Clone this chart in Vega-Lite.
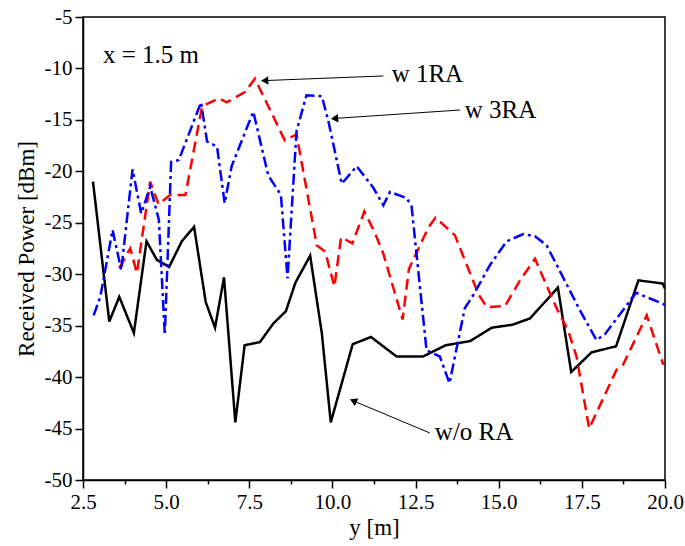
{
  "$schema": "https://vega.github.io/schema/vega-lite/v6.json",
  "width": 582,
  "height": 463,
  "autosize": {"type": "none"},
  "padding": {"left": 83, "top": 17, "right": 20, "bottom": 66},
  "background": "white",
  "config": {
    "view": {"stroke": "black", "strokeWidth": 1.5},
    "font": "Liberation Serif",
    "text": {"font": "Liberation Serif"},
    "axis": {
      "grid": false,
      "domainColor": "black",
      "domainWidth": 1.5,
      "tickColor": "black",
      "tickWidth": 1.5,
      "labelColor": "black",
      "titleColor": "black",
      "labelFontSize": 21,
      "titleFontSize": 23,
      "titleFontWeight": "normal",
      "labelOverlap": false,
      "labelFlush": false
    }
  },
  "layer": [
    {
      "data": {
        "values": [
          {"series": "w/o RA", "ym": 2.8, "p": -21.0},
          {"series": "w/o RA", "ym": 3.29, "p": -34.6},
          {"series": "w/o RA", "ym": 3.59, "p": -32.2},
          {"series": "w/o RA", "ym": 4.03, "p": -35.7},
          {"series": "w/o RA", "ym": 4.41, "p": -26.8},
          {"series": "w/o RA", "ym": 4.72, "p": -28.6},
          {"series": "w/o RA", "ym": 5.09, "p": -29.3},
          {"series": "w/o RA", "ym": 5.47, "p": -26.8},
          {"series": "w/o RA", "ym": 5.84, "p": -25.4},
          {"series": "w/o RA", "ym": 6.19, "p": -32.7},
          {"series": "w/o RA", "ym": 6.47, "p": -35.2},
          {"series": "w/o RA", "ym": 6.74, "p": -30.3},
          {"series": "w/o RA", "ym": 7.08, "p": -44.4},
          {"series": "w/o RA", "ym": 7.36, "p": -36.9},
          {"series": "w/o RA", "ym": 7.82, "p": -36.6},
          {"series": "w/o RA", "ym": 8.22, "p": -34.8},
          {"series": "w/o RA", "ym": 8.6, "p": -33.6},
          {"series": "w/o RA", "ym": 8.89, "p": -30.8},
          {"series": "w/o RA", "ym": 9.33, "p": -28.2},
          {"series": "w/o RA", "ym": 9.68, "p": -35.7},
          {"series": "w/o RA", "ym": 9.95, "p": -44.4},
          {"series": "w/o RA", "ym": 10.61, "p": -36.8},
          {"series": "w/o RA", "ym": 11.16, "p": -36.1},
          {"series": "w/o RA", "ym": 11.93, "p": -38.0},
          {"series": "w/o RA", "ym": 12.72, "p": -38.0},
          {"series": "w/o RA", "ym": 13.41, "p": -36.9},
          {"series": "w/o RA", "ym": 14.14, "p": -36.5},
          {"series": "w/o RA", "ym": 14.79, "p": -35.2},
          {"series": "w/o RA", "ym": 15.42, "p": -34.9},
          {"series": "w/o RA", "ym": 15.94, "p": -34.3},
          {"series": "w/o RA", "ym": 16.78, "p": -31.3},
          {"series": "w/o RA", "ym": 17.18, "p": -39.5},
          {"series": "w/o RA", "ym": 17.79, "p": -37.6},
          {"series": "w/o RA", "ym": 18.53, "p": -37.0},
          {"series": "w/o RA", "ym": 19.2, "p": -30.6},
          {"series": "w/o RA", "ym": 19.93, "p": -30.9},
          {"series": "w/o RA", "ym": 20.0, "p": -31.4},

          {"series": "w 1RA", "ym": 3.59, "p": -29.4},
          {"series": "w 1RA", "ym": 3.92, "p": -27.5},
          {"series": "w 1RA", "ym": 4.12, "p": -29.9},
          {"series": "w 1RA", "ym": 4.52, "p": -21.0},
          {"series": "w 1RA", "ym": 4.77, "p": -23.2},
          {"series": "w 1RA", "ym": 5.12, "p": -22.3},
          {"series": "w 1RA", "ym": 5.58, "p": -22.3},
          {"series": "w 1RA", "ym": 6.08, "p": -13.7},
          {"series": "w 1RA", "ym": 6.58, "p": -12.9},
          {"series": "w 1RA", "ym": 6.82, "p": -13.3},
          {"series": "w 1RA", "ym": 7.37, "p": -12.3},
          {"series": "w 1RA", "ym": 7.67, "p": -11.0},
          {"series": "w 1RA", "ym": 8.57, "p": -17.0},
          {"series": "w 1RA", "ym": 8.92, "p": -16.4},
          {"series": "w 1RA", "ym": 9.53, "p": -27.2},
          {"series": "w 1RA", "ym": 9.78, "p": -27.8},
          {"series": "w 1RA", "ym": 10.06, "p": -31.2},
          {"series": "w 1RA", "ym": 10.26, "p": -26.4},
          {"series": "w 1RA", "ym": 10.6, "p": -27.0},
          {"series": "w 1RA", "ym": 10.96, "p": -23.9},
          {"series": "w 1RA", "ym": 11.28, "p": -26.0},
          {"series": "w 1RA", "ym": 11.53, "p": -28.0},
          {"series": "w 1RA", "ym": 12.11, "p": -34.4},
          {"series": "w 1RA", "ym": 12.3, "p": -29.5},
          {"series": "w 1RA", "ym": 12.88, "p": -25.5},
          {"series": "w 1RA", "ym": 13.1, "p": -24.5},
          {"series": "w 1RA", "ym": 13.68, "p": -26.2},
          {"series": "w 1RA", "ym": 14.4, "p": -32.0},
          {"series": "w 1RA", "ym": 14.64, "p": -33.2},
          {"series": "w 1RA", "ym": 15.19, "p": -33.1},
          {"series": "w 1RA", "ym": 15.64, "p": -30.6},
          {"series": "w 1RA", "ym": 16.09, "p": -28.5},
          {"series": "w 1RA", "ym": 16.74, "p": -33.3},
          {"series": "w 1RA", "ym": 17.09, "p": -35.5},
          {"series": "w 1RA", "ym": 17.34, "p": -38.0},
          {"series": "w 1RA", "ym": 17.72, "p": -45.0},
          {"series": "w 1RA", "ym": 18.54, "p": -39.3},
          {"series": "w 1RA", "ym": 18.74, "p": -38.8},
          {"series": "w 1RA", "ym": 19.45, "p": -34.0},
          {"series": "w 1RA", "ym": 19.95, "p": -38.8},

          {"series": "w 3RA", "ym": 2.82, "p": -34.0},
          {"series": "w 3RA", "ym": 3.02, "p": -32.2},
          {"series": "w 3RA", "ym": 3.39, "p": -25.7},
          {"series": "w 3RA", "ym": 3.65, "p": -29.6},
          {"series": "w 3RA", "ym": 3.99, "p": -19.8},
          {"series": "w 3RA", "ym": 4.25, "p": -24.1},
          {"series": "w 3RA", "ym": 4.52, "p": -21.5},
          {"series": "w 3RA", "ym": 4.78, "p": -24.7},
          {"series": "w 3RA", "ym": 4.96, "p": -35.9},
          {"series": "w 3RA", "ym": 5.15, "p": -19.1},
          {"series": "w 3RA", "ym": 5.38, "p": -18.9},
          {"series": "w 3RA", "ym": 6.05, "p": -13.3},
          {"series": "w 3RA", "ym": 6.23, "p": -17.1},
          {"series": "w 3RA", "ym": 6.53, "p": -17.6},
          {"series": "w 3RA", "ym": 6.76, "p": -23.1},
          {"series": "w 3RA", "ym": 6.97, "p": -19.5},
          {"series": "w 3RA", "ym": 7.62, "p": -14.2},
          {"series": "w 3RA", "ym": 8.07, "p": -20.4},
          {"series": "w 3RA", "ym": 8.45, "p": -22.3},
          {"series": "w 3RA", "ym": 8.65, "p": -30.4},
          {"series": "w 3RA", "ym": 8.92, "p": -16.1},
          {"series": "w 3RA", "ym": 9.22, "p": -12.6},
          {"series": "w 3RA", "ym": 9.68, "p": -12.7},
          {"series": "w 3RA", "ym": 9.87, "p": -15.0},
          {"series": "w 3RA", "ym": 10.28, "p": -21.2},
          {"series": "w 3RA", "ym": 10.73, "p": -19.5},
          {"series": "w 3RA", "ym": 11.23, "p": -21.6},
          {"series": "w 3RA", "ym": 11.53, "p": -23.3},
          {"series": "w 3RA", "ym": 11.73, "p": -22.0},
          {"series": "w 3RA", "ym": 12.23, "p": -22.6},
          {"series": "w 3RA", "ym": 12.38, "p": -23.4},
          {"series": "w 3RA", "ym": 12.83, "p": -37.4},
          {"series": "w 3RA", "ym": 13.23, "p": -38.0},
          {"series": "w 3RA", "ym": 13.52, "p": -40.6},
          {"series": "w 3RA", "ym": 13.98, "p": -33.3},
          {"series": "w 3RA", "ym": 14.24, "p": -32.0},
          {"series": "w 3RA", "ym": 14.74, "p": -29.1},
          {"series": "w 3RA", "ym": 15.24, "p": -26.8},
          {"series": "w 3RA", "ym": 15.74, "p": -26.1},
          {"series": "w 3RA", "ym": 16.09, "p": -26.3},
          {"series": "w 3RA", "ym": 16.44, "p": -27.2},
          {"series": "w 3RA", "ym": 16.84, "p": -29.7},
          {"series": "w 3RA", "ym": 17.44, "p": -33.5},
          {"series": "w 3RA", "ym": 17.94, "p": -36.4},
          {"series": "w 3RA", "ym": 18.2, "p": -35.8},
          {"series": "w 3RA", "ym": 19.13, "p": -31.8},
          {"series": "w 3RA", "ym": 19.95, "p": -32.9},
          {"series": "w 3RA", "ym": 20.0, "p": -33.0}
        ]
      },
      "mark": {"type": "line", "strokeWidth": 2.5, "clip": true},
      "encoding": {
        "x": {
          "field": "ym",
          "type": "quantitative",
          "scale": {"domain": [2.5, 20], "nice": false, "zero": false},
          "axis": {
            "title": "y [m]",
            "labelFont": "Liberation Serif",
            "titleFont": "Liberation Serif",
            "values": [2.5, 3.75, 5, 6.25, 7.5, 8.75, 10, 11.25, 12.5, 13.75, 15, 16.25, 17.5, 18.75, 20],
            "labelExpr": "datum.value % 2.5 == 0 ? format(datum.value, '.1f') : ''",
            "tickSize": {"condition": {"test": "datum.value % 2.5 == 0", "value": 8}, "value": 4},
            "labelPadding": 3,
            "titlePadding": 4
          }
        },
        "y": {
          "field": "p",
          "type": "quantitative",
          "scale": {"domain": [-50, -5], "nice": false, "zero": false},
          "axis": {
            "title": "Received Power [dBm]",
            "labelFont": "Liberation Serif",
            "titleFont": "Liberation Serif",
            "values": [-50, -47.5, -45, -42.5, -40, -37.5, -35, -32.5, -30, -27.5, -25, -22.5, -20, -17.5, -15, -12.5, -10, -7.5, -5],
            "labelExpr": "datum.value % 5 == 0 ? toString(datum.value) : ''",
            "tickSize": {"condition": {"test": "datum.value % 5 == 0", "value": 8}, "value": 4},
            "labelPadding": 3,
            "titlePadding": 6
          }
        },
        "color": {
          "field": "series",
          "type": "nominal",
          "scale": {"domain": ["w/o RA", "w 1RA", "w 3RA"], "range": ["#000000", "#ff0000", "#0000ff"]},
          "legend": null
        },
        "strokeDash": {
          "field": "series",
          "type": "nominal",
          "scale": {"domain": ["w/o RA", "w 1RA", "w 3RA"], "range": [[1, 0], [11, 6], [11, 4, 3, 4]]},
          "legend": null
        }
      }
    },
    {
      "data": {
        "values": [
          {"tx": 3.1, "ty": -9.5, "label": "x = 1.5 m"},
          {"tx": 11.78, "ty": -11.3, "label": "w 1RA"},
          {"tx": 13.98, "ty": -14.85, "label": "w 3RA"},
          {"tx": 13.08, "ty": -46.1, "label": "w/o RA"}
        ]
      },
      "mark": {"type": "text", "align": "left", "baseline": "alphabetic", "fontSize": 25, "font": "Liberation Serif", "color": "black"},
      "encoding": {
        "x": {"field": "tx", "type": "quantitative"},
        "y": {"field": "ty", "type": "quantitative"},
        "text": {"field": "label"}
      }
    },
    {
      "data": {
        "values": [
          {"ax": 11.53, "ay": -10.73, "bx": 7.95, "by": -11.18},
          {"ax": 13.84, "ay": -14.04, "bx": 10.06, "by": -14.86},
          {"ax": 12.93, "ay": -45.43, "bx": 10.62, "by": -42.3}
        ]
      },
      "mark": {"type": "rule", "color": "black", "strokeWidth": 1},
      "encoding": {
        "x": {"field": "ax", "type": "quantitative"},
        "y": {"field": "ay", "type": "quantitative"},
        "x2": {"field": "bx"},
        "y2": {"field": "by"}
      }
    },
    {
      "data": {"values": [{"hx": 8.0, "hy": -11.18}]},
      "mark": {"type": "point", "shape": "triangle", "filled": true, "color": "black", "size": 70, "angle": 268, "opacity": 1},
      "encoding": {
        "x": {"field": "hx", "type": "quantitative"},
        "y": {"field": "hy", "type": "quantitative"}
      }
    },
    {
      "data": {"values": [{"hx": 10.1, "hy": -14.86}]},
      "mark": {"type": "point", "shape": "triangle", "filled": true, "color": "black", "size": 70, "angle": 266, "opacity": 1},
      "encoding": {
        "x": {"field": "hx", "type": "quantitative"},
        "y": {"field": "hy", "type": "quantitative"}
      }
    },
    {
      "data": {"values": [{"hx": 10.66, "hy": -42.35}]},
      "mark": {"type": "point", "shape": "triangle", "filled": true, "color": "black", "size": 70, "angle": 295, "opacity": 1},
      "encoding": {
        "x": {"field": "hx", "type": "quantitative"},
        "y": {"field": "hy", "type": "quantitative"}
      }
    }
  ]
}
